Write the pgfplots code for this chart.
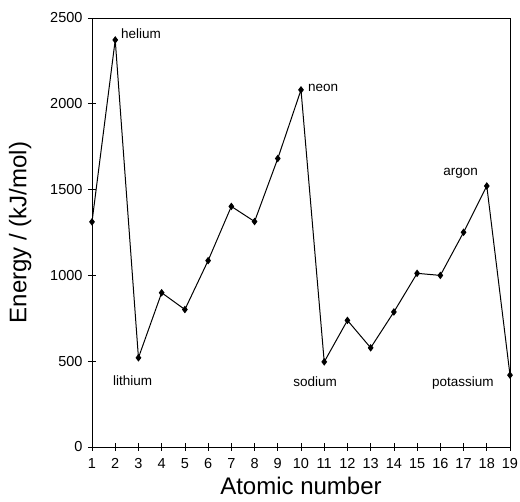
\documentclass[border=0pt]{standalone}
\usepackage{pgfplots}
\pgfplotsset{compat=1.18}
\usepackage{fontspec}
\setmainfont{Liberation Sans}
\begin{document}
\begin{tikzpicture}
\useasboundingbox (-92pt,-55pt) rectangle (428pt,447pt);
\begin{axis}[
  at={(0pt,0pt)}, anchor=south west,
  scale only axis,
  width=418pt, height=429pt,
  xmin=1, xmax=19, ymin=0, ymax=2500,
  xtick={1,...,19},
  ytick={0,500,1000,1500,2000,2500},
  tick pos=left,
  tick align=center,
  major tick length=8pt,
  tick style={black, line width=0.7pt},
  axis line style={line width=0.7pt},
  /pgf/number format/assume math mode=true,
  /pgf/number format/set thousands separator={},
  tick label style={font=\fontsize{14.5}{16}\selectfont},
  xticklabel style={yshift=-4pt},
  yticklabel style={xshift=-2pt},
  xlabel={Atomic number},
  ylabel={Energy / (kJ/mol)},
  label style={font=\fontsize{24}{28}\selectfont},
  xlabel style={yshift=-1pt},
  ylabel style={at={(axis description cs:-0.172,0.5)}, anchor=center, rotate=0},
  clip=false,
]
\addplot[black, line width=1pt, mark=diamond*, mark size=3pt] coordinates {
(1,1312) (2,2372) (3,520) (4,899) (5,801) (6,1086) (7,1402) (8,1314) (9,1681) (10,2081)
(11,496) (12,738) (13,578) (14,787) (15,1012) (16,1000) (17,1251) (18,1521) (19,419)
};
\begin{scope}[font=\fontsize{13.5}{15}\selectfont, inner sep=0pt, anchor=base west]
\node at (axis cs:2.25,2378) {helium};
\node at (axis cs:10.30,2069) {neon};
\node at (axis cs:1.90,361) {lithium};
\node at (axis cs:9.66,355) {sodium};
\node at (axis cs:16.12,1585) {argon};
\node at (axis cs:15.64,350) {potassium};
\end{scope}
\end{axis}
\end{tikzpicture}
\end{document}
